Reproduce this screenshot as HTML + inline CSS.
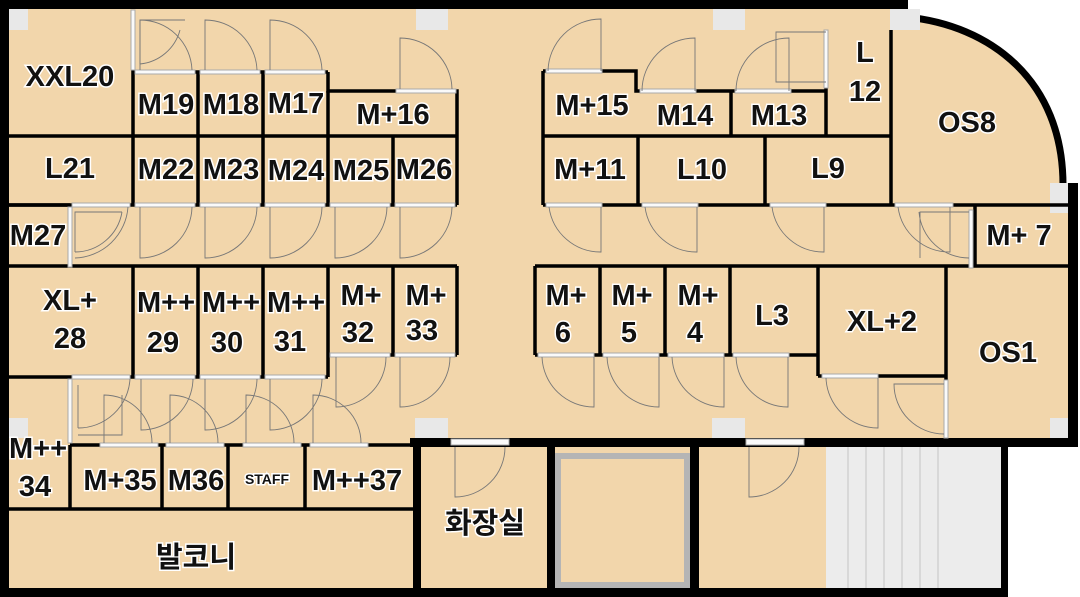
<!DOCTYPE html>
<html><head><meta charset="utf-8"><style>
html,body{margin:0;padding:0;background:#fff}
svg{display:block}
text{font-family:"Liberation Sans","Noto Sans CJK KR",sans-serif;font-weight:bold;font-size:29px;fill:#111;text-anchor:middle;stroke:#fff;stroke-width:3px;paint-order:stroke;}
.d{fill:none;stroke:#777;stroke-width:0.9}
.w{stroke:#000;stroke-width:3.5;fill:none}
.f{fill:#fafafa;stroke:#aaa;stroke-width:1}
.sq{fill:#e8e8e8}
</style></head><body>
<svg width="1080" height="597" viewBox="0 0 1080 597" xmlns="http://www.w3.org/2000/svg">
<path d="M0,0 H908 V16 C990,25 1063,80 1063,183 H1078 V447 H1008 V597 H0 Z" fill="#f2d6ab"/>
<rect x="0" y="0" width="908" height="9" fill="#000"/>
<rect x="0" y="0" width="9" height="597" fill="#000"/>
<rect x="0" y="588" width="1008" height="9" fill="#000"/>
<path d="M906,17 C990,25 1063,80 1063,185" fill="none" stroke="#000" stroke-width="7"/>
<rect x="1068" y="183" width="10" height="264" fill="#000"/>
<rect x="410" y="438" width="668" height="9" fill="#000"/>
<rect x="413" y="438" width="8" height="159" fill="#000"/>
<rect x="547" y="447" width="8" height="150" fill="#000"/>
<rect x="690" y="447" width="9" height="150" fill="#000"/>
<rect x="1001" y="447" width="7" height="150" fill="#000"/>
<rect x="555" y="453" width="135" height="135" fill="#b5b5b5"/>
<rect x="561" y="459" width="123" height="123" fill="#f2d6ab"/>
<rect x="826" y="447" width="175" height="141" fill="#ececec"/>
<g stroke="#d2d2d2" stroke-width="1.5">
<line x1="848" y1="447" x2="848" y2="588"/><line x1="866" y1="447" x2="866" y2="588"/><line x1="884" y1="447" x2="884" y2="588"/><line x1="902" y1="447" x2="902" y2="588"/><line x1="920" y1="447" x2="920" y2="588"/><line x1="938" y1="447" x2="938" y2="588"/>
</g>
<rect class="sq" x="9" y="9" width="19" height="21"/>
<rect class="sq" x="416" y="9" width="32" height="21"/>
<rect class="sq" x="713" y="9" width="32" height="21"/>
<rect class="sq" x="890" y="9" width="30" height="21"/>
<rect class="sq" x="1050" y="183" width="18" height="30"/>
<rect class="sq" x="9" y="418" width="19" height="20"/>
<rect class="sq" x="415" y="418" width="33" height="20"/>
<rect class="sq" x="712" y="418" width="33" height="20"/>
<rect class="sq" x="1050" y="418" width="18" height="20"/>
<g class="w">
<path d="M133,70 V205"/>
<path d="M133,72 H328 M328,72 V91 H457 V205"/>
<path d="M198,72 V205 M263,72 V205 M328,91 V205 M393,136 V205"/>
<path d="M9,136 H457 M9,205 H457"/>
<path d="M9,205 H70"/>
<path d="M9,266 H457"/>
<path d="M133,266 V377 M198,266 V377 M263,266 V377 M328,266 V377 M393,266 V355 M457,266 V355"/>
<path d="M9,377 H70 M70,377 H328 M328,355 H457"/>
<path d="M70,445 H413 M70,445 V509 M162,445 V509 M228,445 V509 M305,445 V509"/>
<path d="M9,509 H413"/>
<path d="M543,71 H636 V91 H826 M543,71 V205 M731,91 V136 M826,86 V136 M891,30 V205"/>
<path d="M543,136 H891 M543,205 H1068 M638,136 V205 M765,136 V205"/>
<path d="M975,205 V266"/>
<path d="M535,266 H1068 M535,266 V355 M600,266 V355 M665,266 V355 M730,266 V355 M818,266 V376 M946,266 V438"/>
<path d="M535,355 H818 M818,376 H946"/>
</g>
<g class="f">
<rect x="131" y="10" width="4" height="60"/><rect x="135" y="70" width="60" height="4"/><rect x="200" y="70" width="60" height="4"/><rect x="265" y="70" width="60" height="4"/><rect x="396" y="89" width="60" height="4"/>
<rect x="72" y="203" width="58" height="4"/><rect x="68" y="207" width="4" height="60"/><rect x="135" y="203" width="60" height="4"/><rect x="200" y="203" width="60" height="4"/><rect x="265" y="203" width="60" height="4"/><rect x="330" y="203" width="60" height="4"/><rect x="395" y="203" width="60" height="4"/>
<rect x="72" y="375" width="58" height="4"/><rect x="68" y="379" width="4" height="64"/><rect x="135" y="375" width="60" height="4"/><rect x="200" y="375" width="60" height="4"/><rect x="265" y="375" width="60" height="4"/><rect x="330" y="353" width="60" height="4"/><rect x="395" y="353" width="60" height="4"/>
<rect x="100" y="443" width="58" height="4"/><rect x="166" y="443" width="58" height="4"/><rect x="243" y="443" width="58" height="4"/><rect x="310" y="443" width="58" height="4"/>
<rect x="451" y="439" width="58" height="6"/><rect x="746" y="439" width="58" height="6"/>
<rect x="546" y="69" width="56" height="4"/><rect x="640" y="89" width="56" height="4"/><rect x="735" y="89" width="56" height="4"/><rect x="824" y="30" width="4" height="58"/>
<rect x="546" y="203" width="56" height="4"/><rect x="642" y="203" width="56" height="4"/><rect x="770" y="203" width="56" height="4"/><rect x="895" y="203" width="58" height="4"/><rect x="969" y="210" width="4" height="58"/>
<rect x="538" y="353" width="56" height="4"/><rect x="603" y="353" width="56" height="4"/><rect x="668" y="353" width="56" height="4"/><rect x="733" y="353" width="56" height="4"/><rect x="822" y="374" width="56" height="4"/><rect x="944" y="380" width="4" height="58"/>
</g>
<g class="d">
<path d="M140,64 V20 H185 M140,64 A46,46 0 0 0 180,30"/>
<path d="M140,70 V20 A52,52 0 0 1 192,70"/>
<path d="M205,70 V20 A52,52 0 0 1 257,70"/>
<path d="M270,70 V20 A52,52 0 0 1 322,70"/>
<path d="M400,89 V38 A52,52 0 0 1 452,89"/>
<path d="M140,207 V258 A52,52 0 0 0 192,207"/>
<path d="M205,207 V258 A52,52 0 0 0 257,207"/>
<path d="M270,207 V258 A52,52 0 0 0 322,207"/>
<path d="M335,207 V258 A52,52 0 0 0 387,207"/>
<path d="M400,207 V258 A52,52 0 0 0 452,207"/>
<path d="M75,252 V212 H122 M75,252 A48,48 0 0 0 122,212 M75,258 A55,55 0 0 0 128,207"/>
<path d="M78,428 V385 M78,428 A52,52 0 0 0 130,379"/>
<path d="M141,379 V430 A52,52 0 0 0 193,379"/>
<path d="M205,379 V430 A52,52 0 0 0 257,379"/>
<path d="M270,379 V430 A52,52 0 0 0 322,379"/>
<path d="M336,357 V407 A50,50 0 0 0 386,357"/>
<path d="M400,357 V407 A50,50 0 0 0 450,357"/>
<path d="M104,443 V395 A48,48 0 0 1 152,443 M78,435 H122 V395"/>
<path d="M170,443 V395 A48,48 0 0 1 218,443"/>
<path d="M246,443 V395 A48,48 0 0 1 294,443"/>
<path d="M313,443 V395 A48,48 0 0 1 361,443"/>
<path d="M455,447 V497 A50,50 0 0 0 505,447"/>
<path d="M749,447 V497 A50,50 0 0 0 799,447"/>
<path d="M601,71 V19 A53,53 0 0 0 548,71"/>
<path d="M695,91 V38 A53,53 0 0 0 642,91"/>
<path d="M789,91 V38 A53,53 0 0 0 736,91 M826,82 H776 V32 H826"/>
<path d="M601,207 V252 A52,52 0 0 1 549,207"/>
<path d="M697,207 V252 A52,52 0 0 1 645,207"/>
<path d="M824,207 V252 A52,52 0 0 1 772,207"/>
<path d="M950,207 V252 A52,52 0 0 1 898,207 M969,212 H920 V258 M969,258 A50,50 0 0 1 919,212"/>
<path d="M594,357 V407 A52,52 0 0 1 542,357"/>
<path d="M659,357 V407 A52,52 0 0 1 607,357"/>
<path d="M724,357 V407 A52,52 0 0 1 672,357"/>
<path d="M788,357 V407 A52,52 0 0 1 736,357"/>
<path d="M878,378 V428 A52,52 0 0 1 826,378"/>
<path d="M944,434 A50,50 0 0 1 894,384 H944"/>
</g>
<text x="70" y="86">XXL20</text>
<text x="166" y="114">M19</text><text x="231" y="114">M18</text><text x="296" y="113">M17</text><text x="393" y="124">M+16</text>
<text x="70" y="178">L21</text><text x="166" y="179">M22</text><text x="231" y="179">M23</text><text x="296" y="180">M24</text><text x="361" y="180">M25</text><text x="424" y="179">M26</text>
<text x="38" y="245">M27</text>
<text x="70" y="310">XL+</text><text x="70" y="348">28</text>
<text x="166" y="312">M++</text><text x="163" y="352">29</text>
<text x="231" y="312">M++</text><text x="227" y="352">30</text>
<text x="296" y="312">M++</text><text x="290" y="351">31</text>
<text x="361" y="305">M+</text><text x="358" y="342">32</text>
<text x="426" y="305">M+</text><text x="422" y="340">33</text>
<text x="38" y="458">M++</text><text x="35" y="496">34</text>
<text x="120" y="490">M+35</text><text x="196" y="490">M36</text>
<text x="267" y="484" style="font-size:14px">STAFF</text>
<text x="357" y="490">M++37</text>
<text x="196" y="567">발코니</text>
<text x="485" y="533">화장실</text>
<text x="592" y="115">M+15</text><text x="685" y="125">M14</text><text x="779" y="125">M13</text>
<text x="865" y="62">L</text><text x="865" y="101">12</text>
<text x="967" y="132">OS8</text>
<text x="590" y="179">M+11</text><text x="702" y="179">L10</text><text x="828" y="178">L9</text>
<text x="1019" y="245">M+ 7</text>
<text x="566" y="305">M+</text><text x="563" y="342">6</text>
<text x="632" y="305">M+</text><text x="629" y="342">5</text>
<text x="698" y="305">M+</text><text x="695" y="342">4</text>
<text x="772" y="325">L3</text><text x="882" y="331">XL+2</text><text x="1008" y="362">OS1</text>
</svg>
</body></html>
